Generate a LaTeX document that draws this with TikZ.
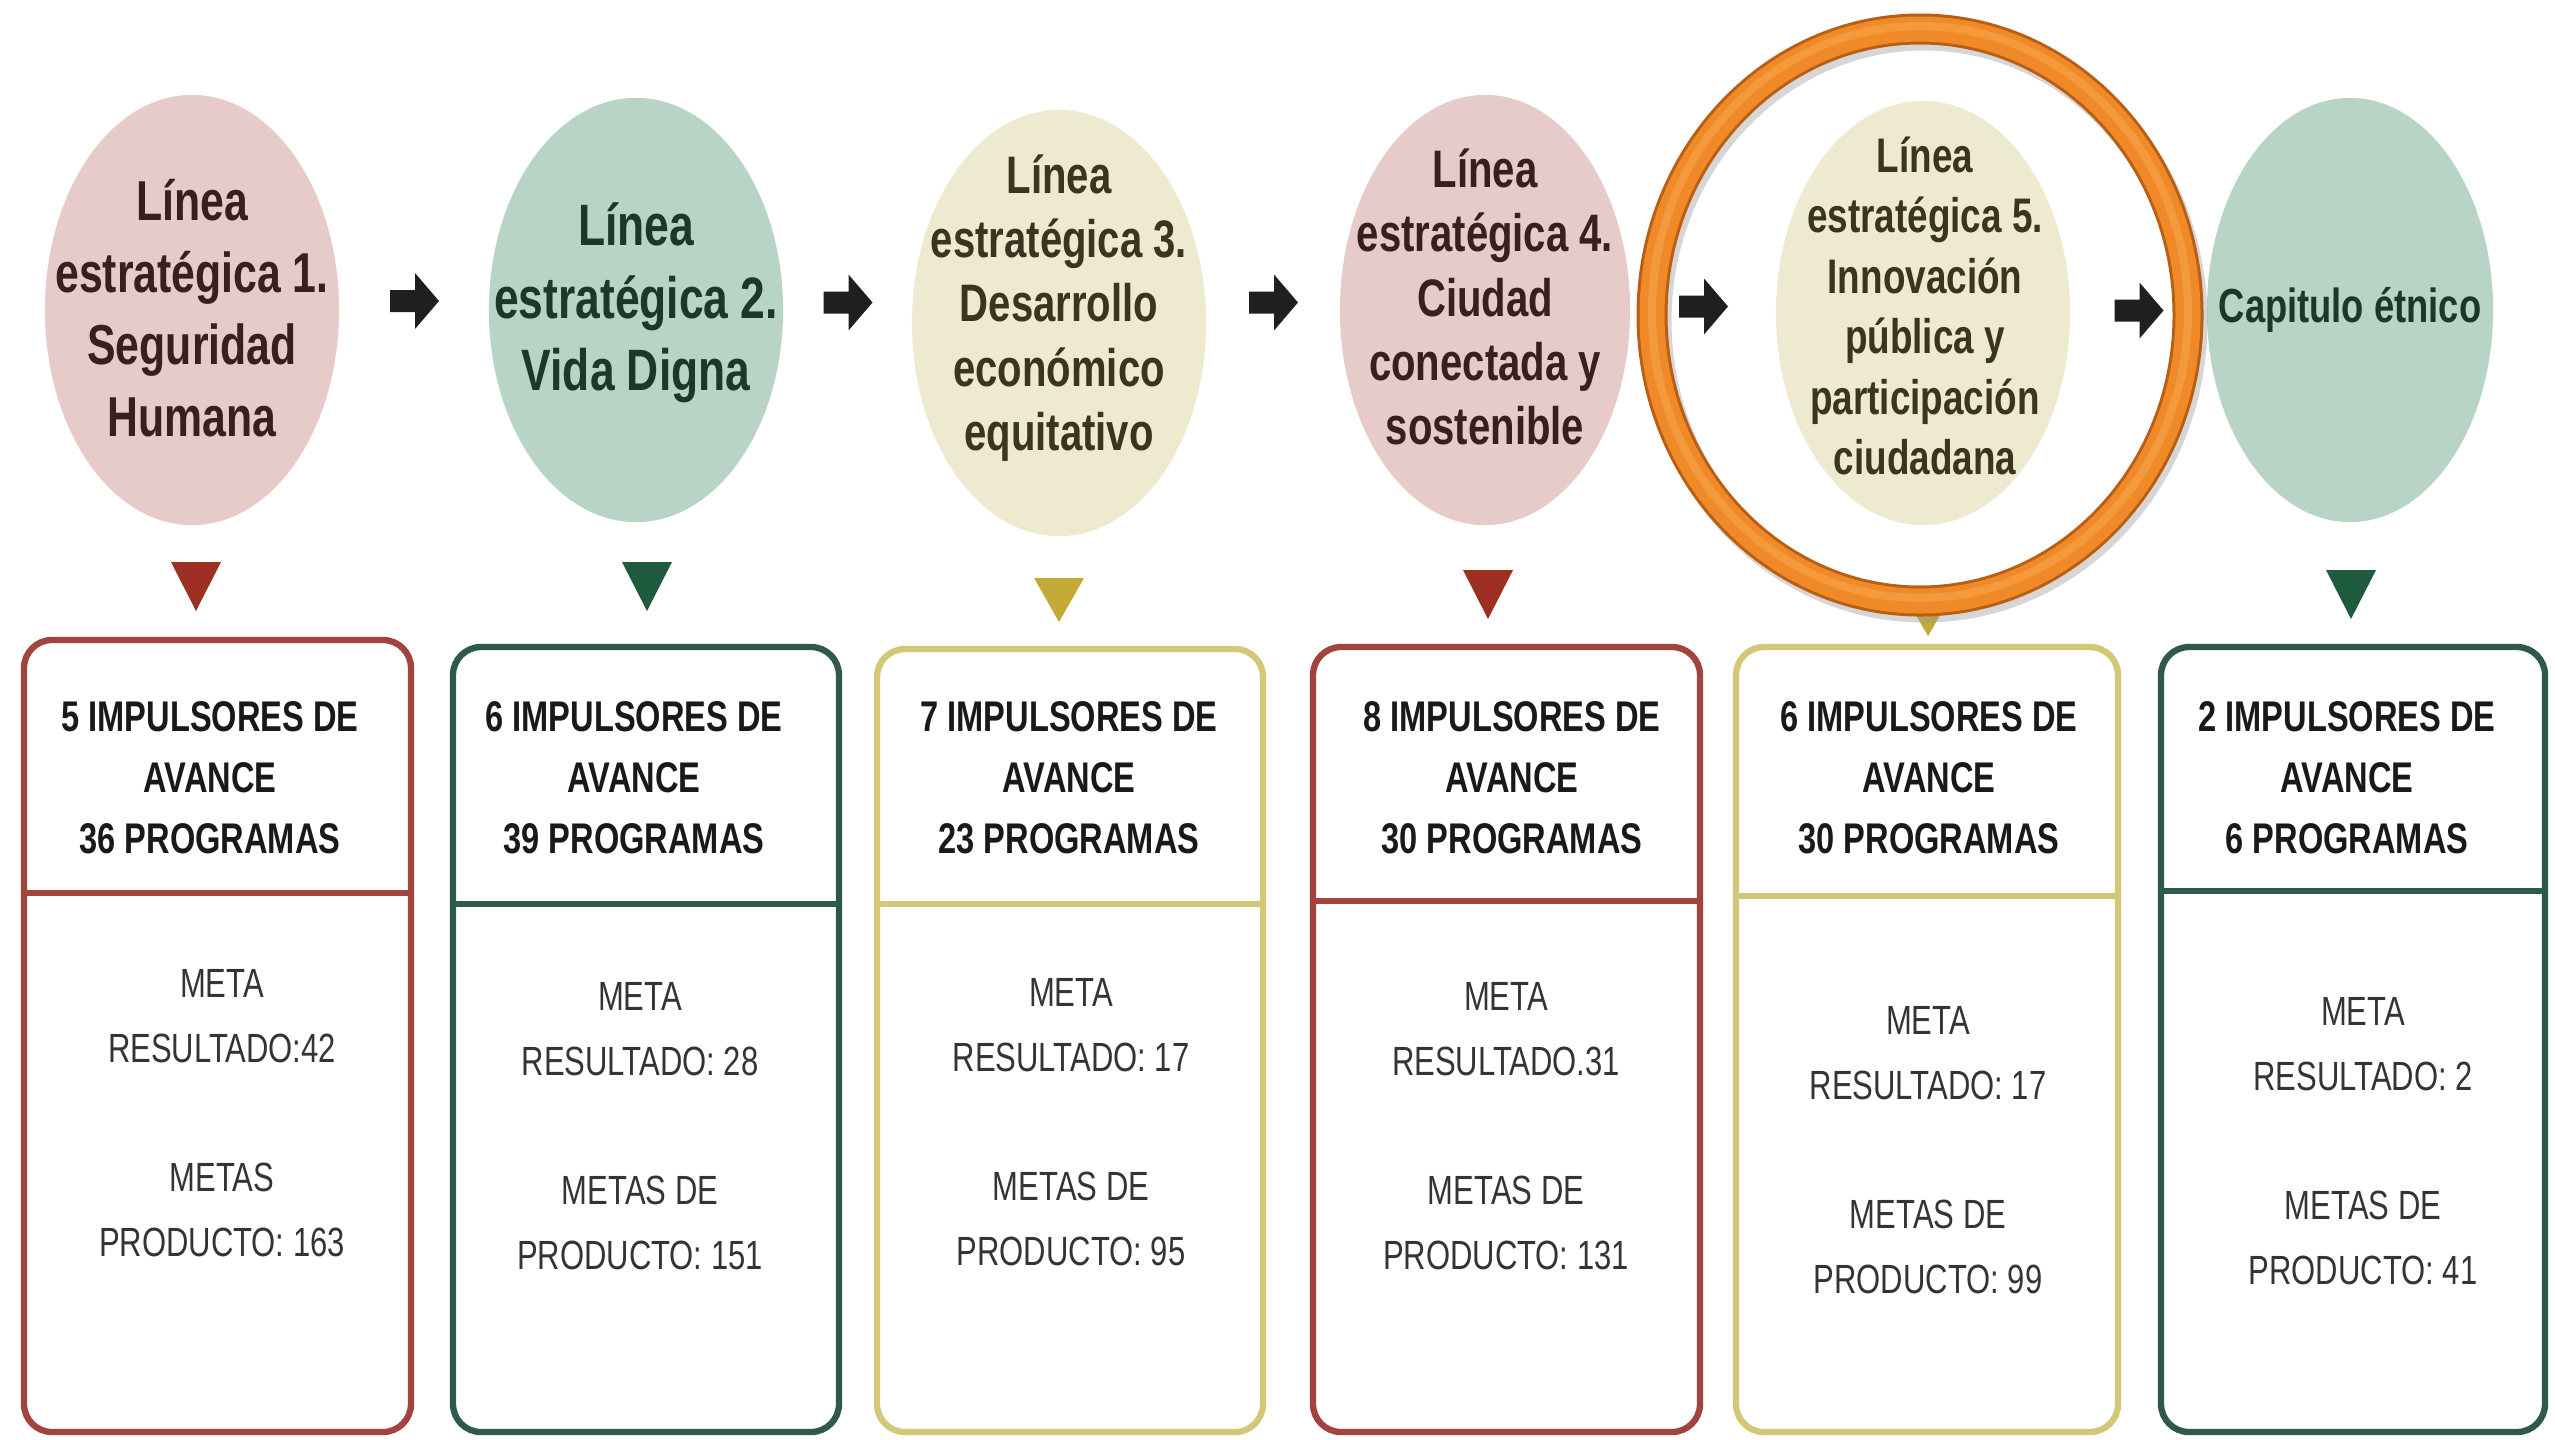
\documentclass[tikz,border=0pt]{standalone}
\usepackage{fontspec}
\setmainfont{Liberation Sans}
\newfontfamily\cond[FakeStretch=0.76]{Liberation Sans}
\usetikzlibrary{calc,shapes.geometric}
\definecolor{pinkf}{HTML}{E7CBC8}
\definecolor{greenf}{HTML}{B8D4C6}
\definecolor{creamf}{HTML}{EEEACF}
\definecolor{redl}{HTML}{A3433F}
\definecolor{redt}{HTML}{9C2E22}
\definecolor{greenl}{HTML}{2D5B47}
\definecolor{greent}{HTML}{1E5A3E}
\definecolor{olivel}{HTML}{D3C877}
\definecolor{olivet}{HTML}{C3A935}
\definecolor{redtx}{HTML}{3A1F1F}
\definecolor{greentx}{HTML}{1B382B}
\definecolor{olivetx}{HTML}{3A3420}
\definecolor{graytx}{HTML}{343434}
\definecolor{orng}{HTML}{F08A28}
\definecolor{orngd}{HTML}{B95E15}
\definecolor{orngl}{HTML}{F59A3C}
\tikzset{
  ell/.style={ellipse, draw=none, inner sep=0pt},
  elltext/.style={align=center, inner sep=0pt, font=\cond\bfseries},
  boxline/.style={line width=1.8pt, rounded corners=0.28cm},
  divline/.style={line width=1.8pt},
  head/.style={align=center, inner sep=0pt, text=black!90,
    font=\cond\bfseries\fontsize{12.2}{17.4}\selectfont},
  low/.style={align=center, inner sep=0pt, text=graytx,
    font=\cond\fontsize{11.6}{18.5}\selectfont},
  pics/fatarrow/.style={code={
    \fill[black!88] (-24,-11) -- (1,-11) -- (1,-28) -- (25,0) -- (1,28) -- (1,11) -- (-24,11) -- cycle;}}
}
\begin{document}
\begin{tikzpicture}[x=0.01cm,y=-0.01cm]
\useasboundingbox[fill=white] (0,0) rectangle (2555,1439);

% ellipses
\node[ell, fill=pinkf,  minimum width=2.94cm, minimum height=4.30cm] (e1) at (192,310) {};
\node[ell, fill=greenf, minimum width=2.94cm, minimum height=4.24cm] (e2) at (636,310) {};
\node[ell, fill=creamf, minimum width=2.94cm, minimum height=4.26cm] (e3) at (1059,323) {};
\node[ell, fill=pinkf,  minimum width=2.90cm, minimum height=4.30cm] (e4) at (1485,310) {};
\node[ell, fill=creamf, minimum width=2.94cm, minimum height=4.24cm] (e5) at (1923,313) {};
\node[ell, fill=greenf, minimum width=2.86cm, minimum height=4.24cm] (e6) at (2350,310) {};

% ellipse texts
\node[elltext, text=redtx, font=\cond\bfseries\fontsize{16}{20.5}\selectfont] (t1) at (192,308)
  {Línea\\estratégica 1.\\Seguridad\\Humana};
\node[elltext, text=greentx, font=\cond\bfseries\fontsize{16.6}{20.6}\selectfont] (t2) at (636,303)
  {Línea\\estratégica 2.\\Vida Digna};
\node[elltext, text=olivetx, font=\cond\bfseries\fontsize{15}{18.3}\selectfont] (t3) at (1059,308)
  {Línea\\estratégica 3.\\Desarrollo\\económico\\equitativo};
\node[elltext, text=redtx, font=\cond\bfseries\fontsize{15}{18.3}\selectfont] (t4) at (1485,297)
  {Línea\\estratégica 4.\\Ciudad\\conectada y\\sostenible};
\node[elltext, text=olivetx, font=\cond\bfseries\fontsize{13.8}{17.2}\selectfont] (t5) at (1925,306)
  {Línea\\estratégica 5.\\Innovación\\pública y\\participación\\ciudadana};
\node[elltext, text=greentx, font=\cond\bfseries\fontsize{13.6}{17}\selectfont] (t6) at (2350,310)
  {Capitulo étnico};

% arrows between ellipses
\pic at ($($(e1.east)!0.5!(e2.west)$)+(0,-9)$) {fatarrow};
\pic at ($($(e2.east)!0.5!(e3.west)$)+(0,-14)$) {fatarrow};
\pic at ($($(e3.east)!0.5!(e4.west)$)+(0,-14)$) {fatarrow};
\pic at ($($(e4.east)!0.5!(e5.west)$)+(0,-5)$) {fatarrow};
\pic at ($($(e5.east)!0.5!(e6.west)$)+(0,-1)$) {fatarrow};

% triangles
\fill[redt]   (171,562) -- (221,562) -- (196,611) -- cycle;
\fill[greent] (622,562) -- (672,562) -- (647,611) -- cycle;
\fill[olivet] (1034,578) -- (1084,578) -- (1059,622) -- cycle;
\fill[redt]   (1463,570) -- (1513,570) -- (1488,619) -- cycle;
\fill[olivet] (1906,598) -- (1950,598) -- (1928,636) -- cycle;
\fill[greent] (2326,570) -- (2376,570) -- (2351,619) -- cycle;

% orange ring
\draw[black!40, opacity=0.4, line width=0.31cm] (1924,321) ellipse [x radius=268, y radius=286];
\draw[orngd, line width=0.31cm] (1920,315) ellipse [x radius=268, y radius=286];
\draw[orng, line width=0.25cm] (1920,315) ellipse [x radius=268, y radius=286];
\draw[orngl, line width=0.08cm] (1920,312) ellipse [x radius=268, y radius=286];

% boxes
\draw[boxline, draw=redl]   (24,640) rectangle (411,1432);
\draw[divline, draw=redl]   (24,893) -- (411,893);
\draw[boxline, draw=greenl] (453,647) rectangle (839,1432);
\draw[divline, draw=greenl] (453,904) -- (839,904);
\draw[boxline, draw=olivel] (877,649) rectangle (1263,1432);
\draw[divline, draw=olivel] (877,904) -- (1263,904);
\draw[boxline, draw=redl]   (1313,647) rectangle (1700,1432);
\draw[divline, draw=redl]   (1313,901) -- (1700,901);
\draw[boxline, draw=olivel] (1736,647) rectangle (2118,1432);
\draw[divline, draw=olivel] (1736,896) -- (2118,896);
\draw[boxline, draw=greenl] (2161,647) rectangle (2545,1432);
\draw[divline, draw=greenl] (2161,891) -- (2545,891);

% box headings
\node[head] (h1) at (210,778)  {5 IMPULSORES DE\\AVANCE\\36 PROGRAMAS};
\node[head] (h2) at (634,778)  {6 IMPULSORES DE\\AVANCE\\39 PROGRAMAS};
\node[head] (h3) at (1069,778) {7 IMPULSORES DE\\AVANCE\\23 PROGRAMAS};
\node[head] (h4) at (1512,778) {8 IMPULSORES DE\\AVANCE\\30 PROGRAMAS};
\node[head] (h5) at (1929,778) {6 IMPULSORES DE\\AVANCE\\30 PROGRAMAS};
\node[head] (h6) at (2347,778) {2 IMPULSORES DE\\AVANCE\\6 PROGRAMAS};

% lower texts
\node[low] (l1) at (222,1113)  {META\\RESULTADO:42\\[18pt]METAS\\PRODUCTO: 163};
\node[low] (l2) at (640,1126)  {META\\RESULTADO: 28\\[18pt]METAS DE\\PRODUCTO: 151};
\node[low] (l3) at (1071,1122) {META\\RESULTADO: 17\\[18pt]METAS DE\\PRODUCTO: 95};
\node[low] (l4) at (1506,1126) {META\\RESULTADO.31\\[18pt]METAS DE\\PRODUCTO: 131};
\node[low] (l5) at (1928,1150) {META\\RESULTADO: 17\\[18pt]METAS DE\\PRODUCTO: 99};
\node[low] (l6) at (2363,1141) {META\\RESULTADO: 2\\[18pt]METAS DE\\PRODUCTO: 41};
\end{tikzpicture}
\end{document}
